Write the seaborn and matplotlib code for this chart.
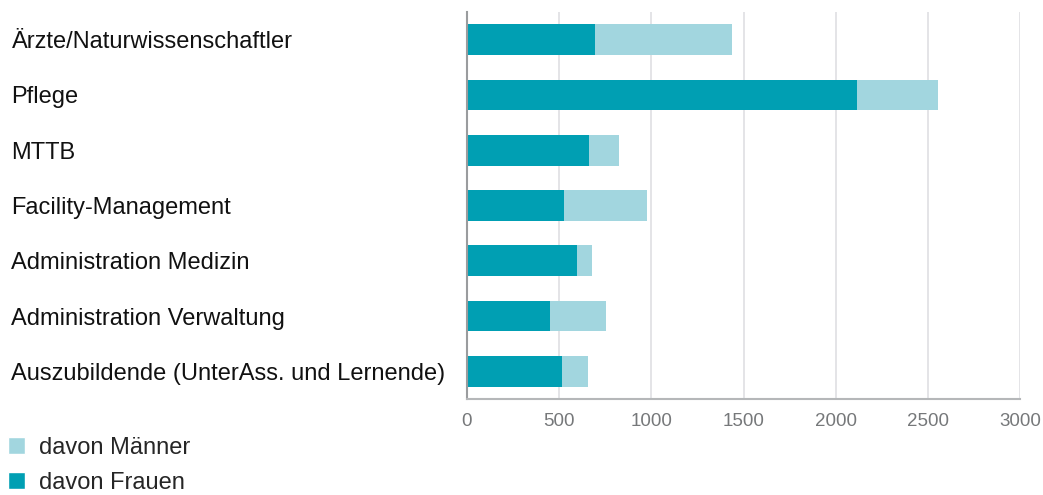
import matplotlib
matplotlib.use("Agg")
import matplotlib.pyplot as plt
from matplotlib.patches import Patch
import seaborn as sns
import pandas as pd

categories = [
    "Ärzte/Naturwissenschaftler",
    "Pflege",
    "MTTB",
    "Facility-Management",
    "Administration Medizin",
    "Administration Verwaltung",
    "Auszubildende (UnterAss. und Lernende)",
]
frauen = [694, 2115, 662, 526, 597, 450, 515]
maenner = [743, 439, 162, 450, 81, 304, 141]
x_ticks = [0, 500, 1000, 1500, 2000, 2500, 3000]

col_frauen = "#009FB3"
col_maenner = "#A2D6DF"

sns.set_theme(style="white")
plt.rcParams["font.family"] = ["Liberation Sans", "DejaVu Sans"]

df = pd.DataFrame({
    "Kategorie": categories,
    "Frauen": frauen,
    "Gesamt": [f + m for f, m in zip(frauen, maenner)],
})

fig = plt.figure(figsize=(10.43, 4.95), dpi=100)
ax = fig.add_axes([467 / 1043, 1 - 399 / 495, (1020 - 467) / 1043, (399 - 12) / 495])

# stacked bars: total (men on top of women) first, women drawn over it
sns.barplot(data=df, y="Kategorie", x="Gesamt", orient="h", color=col_maenner,
            saturation=1, width=0.555, ax=ax)
sns.barplot(data=df, y="Kategorie", x="Frauen", orient="h", color=col_frauen,
            saturation=1, width=0.555, ax=ax)
for p in ax.patches:
    p.set_linewidth(0)

ax.set_xlim(0, 3000)
ax.set_ylim(6.5, -0.5)
ax.set_xticks(x_ticks)
ax.set_xticklabels([str(t) for t in x_ticks])
ax.set_xlabel("")
ax.set_ylabel("")

ax.grid(axis="x", color="#DCDDE0", linewidth=1.1)
ax.set_axisbelow(True)
for side in ["top", "right"]:
    ax.spines[side].set_visible(False)
ax.spines["left"].set_color("#9A9C9E")
ax.spines["left"].set_linewidth(1.5)
ax.spines["bottom"].set_color("#B5B7B9")
ax.spines["bottom"].set_linewidth(1.5)

ax.tick_params(axis="x", length=0, pad=10, labelsize=13.5, labelcolor="#76787A")
ax.tick_params(axis="y", length=0, pad=328, labelsize=17, labelcolor="#111111")
for lbl in ax.get_yticklabels():
    lbl.set_horizontalalignment("left")

handles = [Patch(facecolor=col_maenner, label="davon Männer"),
           Patch(facecolor=col_frauen, label="davon Frauen")]
fig.legend(handles=handles, loc="lower left", bbox_to_anchor=(0.0, -0.014),
           frameon=False, fontsize=17, handlelength=0.7, handleheight=0.7,
           handletextpad=0.6, labelspacing=0.55, borderaxespad=0.0,
           borderpad=0.35)

fig.savefig("out.png", dpi=100)
